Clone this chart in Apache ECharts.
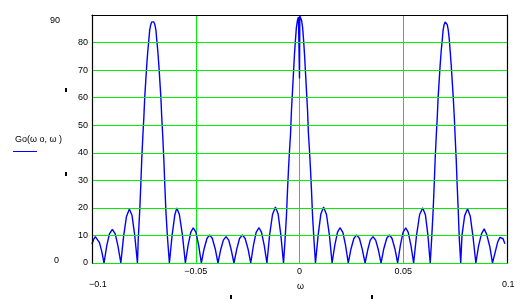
<!DOCTYPE html>
<html>
<head>
<meta charset="utf-8">
<script src="https://cdn.jsdelivr.net/npm/echarts@6/dist/echarts.min.js"></script>
<style>html,body{margin:0;padding:0;background:#fff}#c{width:531px;height:301px}</style>
</head>
<body>
<div id="c"></div>
<script>
// omega values (x) and Go values (y)
var omega = [
 -0.1000,-0.0992,-0.0984,-0.0975,-0.0964,-0.0953,-0.0942,
 -0.0929,-0.0916,-0.0902,-0.0888,-0.0875,-0.0861,
 -0.0848,-0.0834,-0.0820,-0.0807,-0.0794,-0.0781,
 -0.0777,-0.0770,-0.0765,-0.0760,-0.0755,-0.0750,-0.0746,-0.0741,-0.0736,-0.0731,-0.0726,-0.0722,-0.0717,-0.0712,-0.0707,
 -0.0702,-0.0697,-0.0692,-0.0688,-0.0683,-0.0678,-0.0673,-0.0668,-0.0664,-0.0659,-0.0654,-0.0649,-0.0644,-0.0636,-0.0627,
 -0.0614,-0.0601,-0.0591,-0.0579,-0.0564,-0.0550,
 -0.0537,-0.0524,-0.0512,-0.0499,-0.0486,-0.0473,
 -0.0460,-0.0446,-0.0433,-0.0420,-0.0406,-0.0393,
 -0.0380,-0.0367,-0.0354,-0.0341,-0.0329,-0.0316,
 -0.0302,-0.0289,-0.0275,-0.0262,-0.0248,-0.0235,
 -0.0222,-0.0209,-0.0195,-0.0183,-0.0170,-0.0157,
 -0.0144,-0.0130,-0.0116,-0.0103,-0.0090,-0.0077,
 -0.0070,-0.0063,-0.0058,-0.0053,-0.0048,-0.0043,-0.0039,-0.0034,-0.0029,-0.0024,-0.0019,-0.0015,-0.0010,-0.0005,-0.00015,
 0,
 0.00015,0.0005,0.0010,0.0015,0.0019,0.0024,0.0029,0.0034,0.0039,0.0043,0.0048,0.0053,0.0058,0.0063,0.0070,
 0.0077,0.0090,0.0103,0.0116,0.0130,0.0144,
 0.0157,0.0170,0.0183,0.0195,0.0209,0.0222,
 0.0235,0.0248,0.0262,0.0275,0.0289,0.0302,
 0.0316,0.0329,0.0341,0.0354,0.0367,0.0380,
 0.0393,0.0406,0.0420,0.0433,0.0446,0.0460,
 0.0473,0.0486,0.0499,0.0512,0.0524,0.0537,
 0.0550,0.0564,0.0579,0.0594,0.0607,0.0619,0.0630,
 0.0637,0.0644,0.0649,0.0654,0.0659,0.0664,0.0668,0.0673,0.0678,0.0683,0.0688,0.0692,0.0697,0.0702,0.0707,
 0.0712,0.0717,0.0722,0.0726,0.0731,0.0736,0.0741,0.0746,0.0750,0.0755,0.0760,0.0765,0.0770,0.0777,0.0783,
 0.0796,0.0810,0.0823,0.0836,0.0850,0.0863,
 0.0877,0.0890,0.0902,0.0917,0.0930,0.0944,
 0.0955,0.0966,0.0974,0.0981,0.0990,0.1000
];
var go = [
 6.8,8.6,9.6,9.3,7.4,4.2,0,
 6.2,10.6,12.2,10.6,6.2,0,
 9.5,16.8,19.6,17.2,10,0,
 9,19,28,38,46,53,60,66,72,77,81,84.5,86.5,87.5,88,
 87.5,86.5,84.5,81,77,72,66,60,53,46,38,28,19,9,0,
 10,17.4,20,17.6,10,0,
 6.4,11.1,12.8,11.1,6.4,0,
 5.1,8.9,10.2,8.9,5.1,0,
 4.8,8.3,9.6,8.3,4.8,0,
 5.1,8.9,10.2,8.9,5.1,0,
 6.4,11.1,12.8,11.1,6.4,0,
 10.2,17.6,20.3,17.8,10.2,0,
 8,17,26,34,41,47,55,62,69,76,81.5,85.5,88,89.3,89.7,
 67,
 89.7,89.3,88,85.5,81.5,76,69,62,55,47,41,34,26,17,8,
 0,10.2,17.8,20.3,17.6,10.2,
 0,6.4,11.1,12.8,11.1,6.4,
 0,5.1,8.9,10.2,8.9,5.1,
 0,4.8,8.3,9.6,8.3,4.8,
 0,5.1,8.9,10.2,8.9,5.1,
 0,6.4,11.1,12.8,11.1,6.4,
 0,10,17.6,20,17.4,10,0,
 9,19,28,38,46,53,60,66,72,77,81,84.5,86.5,87.5,
 87.5,86.5,84.5,81,77,72,66,60,53,46,38,28,19,9,0,
 10,17.2,19.7,17,9.6,0,
 6.2,10.6,12.4,10.4,6,0,
 4.2,7.6,9.3,9.8,8.8,7
];
var yTicks = [0,10,20,30,40,50,60,70,80,90];
var xTicks = [-0.1,-0.05,0,0.05,0.1];

var pts = omega.map(function(x,i){return [x, go[i]];});
var FONT = 'Liberation Sans';
var GREEN = '#00ee00';
var chart = echarts.init(document.getElementById('c'), null, {renderer:'canvas'});
chart.setOption({
  animation:false,
  grid:{left:92, right:24, top:15, bottom:38, containLabel:false},
  xAxis:[{
    type:'value', min:-0.1, max:0.1, interval:0.05,
    axisLine:{show:false, onZero:false}, axisTick:{show:false},
    splitLine:{show:true, lineStyle:{color:GREEN, width:1}},
    axisLabel:{show:true, showMinLabel:false, showMaxLabel:false, margin:4,
      fontFamily:FONT, fontSize:9, color:'#000',
      formatter:function(v){ return v===0 ? '0' : String(Math.round(v*100)/100).replace('-','\u2212'); }}
  },{
    type:'value', position:'top', min:-0.1, max:0.1, z:5,
    axisLine:{show:true, onZero:false, lineStyle:{color:'#000', width:1.2}},
    axisTick:{show:false}, axisLabel:{show:false}, splitLine:{show:false}
  }],
  yAxis:[{
    type:'value', min:0, max:90, interval:10, z:5,
    axisLine:{show:true, onZero:false, lineStyle:{color:'#000', width:1.2}},
    axisTick:{show:false},
    splitLine:{show:true, lineStyle:{color:GREEN, width:1}},
    axisLabel:{show:true, showMaxLabel:false, margin:4, fontFamily:FONT, fontSize:9, color:'#000'}
  },{
    type:'value', position:'right', min:0, max:90, z:5,
    axisLine:{show:true, onZero:false, lineStyle:{color:'#000', width:1.2}},
    axisTick:{show:false}, axisLabel:{show:false}, splitLine:{show:false}
  }],
  series:[{
    type:'line', data:pts, showSymbol:false, symbol:'none', z:3,
    lineStyle:{color:'#0000ff', width:1.4}
  }],
  graphic:[
    {type:'text', left:50, top:16, style:{text:'90', font:'9px '+FONT, fill:'#000'}},
    {type:'text', left:54, top:256, style:{text:'0', font:'9px '+FONT, fill:'#000'}},
    {type:'text', left:89, top:280, style:{text:'\u22120.1', font:'9px '+FONT, fill:'#000'}},
    {type:'text', left:502, top:280, style:{text:'0.1', font:'9px '+FONT, fill:'#000'}},
    {type:'text', left:297, top:282, style:{text:'\u03c9', font:'9px '+FONT, fill:'#000'}},
    {type:'text', left:15, top:135, style:{text:'Go(\u03c9 o, \u03c9 )', font:'9px '+FONT, fill:'#000'}},
    {type:'line', shape:{x1:13, y1:151.5, x2:37, y2:151.5}, style:{stroke:'#0000ff', lineWidth:1}},
    {type:'rect', shape:{x:65, y:88, width:2, height:4}, style:{fill:'#000'}},
    {type:'rect', shape:{x:65, y:172, width:2, height:4}, style:{fill:'#000'}},
    {type:'rect', shape:{x:230, y:295, width:2, height:4}, style:{fill:'#000'}},
    {type:'rect', shape:{x:371, y:295, width:2, height:4}, style:{fill:'#000'}}
  ]
});
</script>
</body>
</html>
